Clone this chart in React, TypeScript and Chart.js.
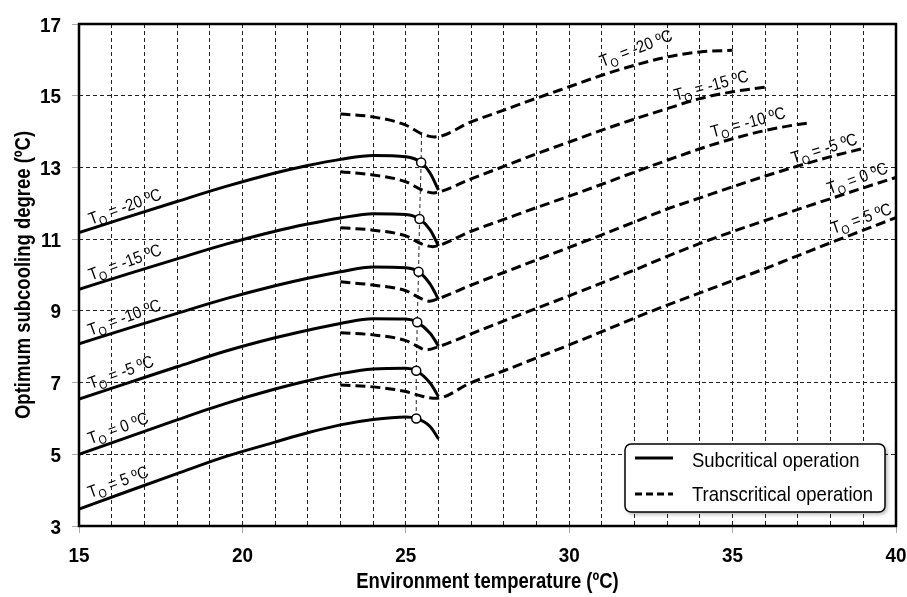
import React, { useEffect, useRef } from "react";
import { Chart, registerables } from "chart.js";

Chart.register(...registerables);

// Evaporating temperatures of the six curve families
const TO_VALUES = ["-20", "-15", "-10", "-5", "0", "5"];

// Subcritical operation: shared environment temperatures (ºC)
const SUB_X = [15, 16.5, 18, 19.5, 21, 22, 23, 24, 25, 25.75, 26];
const subM20 = [11.18, 11.62, 12.05, 12.47, 12.845, 13.055, 13.225, 13.335, 13.3, 12.83, 12.37];
const subM15 = [9.6, 10.03, 10.45, 10.86, 11.22, 11.42, 11.59, 11.71, 11.69, 11.25, 10.81];
const subM10 = [8.08, 8.51, 8.93, 9.34, 9.7, 9.91, 10.09, 10.22, 10.2, 9.74, 9.32];
const subM5 = [6.54, 6.99, 7.44, 7.88, 8.25, 8.46, 8.65, 8.78, 8.77, 8.37, 8.02];
const sub0 = [5.0, 5.48, 5.96, 6.42, 6.82, 7.05, 7.25, 7.38, 7.4, 6.98, 6.61];
const sub5 = [3.47, 3.97, 4.46, 4.94, 5.34, 5.6, 5.82, 5.97, 6.04, 5.77, 5.43];

// Optimum (open circle) points of each subcritical curve
const optX = [25.47, 25.42, 25.39, 25.35, 25.32, 25.32];
const optY = [13.14, 11.56, 10.09, 8.68, 7.33, 6.0];

// Upper end of the line joining the optimum points
const locusTopX = [25.48];
const locusTopY = [13.93];

// Transcritical operation
const transM20X = [23, 24, 25, 25.5, 25.88, 27, 28, 29, 30, 31, 32, 33, 34, 35];
const transM20Y = [14.49, 14.41, 14.18, 13.93, 13.85, 14.27, 14.6, 14.93, 15.25, 15.57, 15.85, 16.08, 16.22, 16.27];
const transM15X = [23, 24, 25, 25.5, 25.85, 26, 27, 28, 29, 30, 31, 32, 33, 34, 35, 36];
const transM15Y = [12.88, 12.79, 12.6, 12.37, 12.29, 12.31, 12.68, 13.03, 13.38, 13.71, 14.04, 14.35, 14.64, 14.92, 15.11, 15.24];
const transM10X = [23, 24, 25, 25.5, 25.83, 26, 27, 28, 29, 30, 31, 32, 33, 34, 35, 36, 37, 37.4];
const transM10Y = [11.32, 11.25, 11.09, 10.86, 10.79, 10.82, 11.22, 11.55, 11.88, 12.2, 12.53, 12.87, 13.2, 13.52, 13.8, 14.03, 14.2, 14.25];
const transM5X = [23, 24, 25, 25.5, 25.72, 26, 27, 28, 29, 30, 31, 32, 33, 34, 35, 36, 37, 38, 39];
const transM5Y = [9.81, 9.72, 9.56, 9.33, 9.27, 9.34, 9.72, 10.07, 10.42, 10.77, 11.12, 11.48, 11.84, 12.15, 12.46, 12.76, 13.04, 13.3, 13.53];
const trans0X = [23, 24, 25, 25.3, 25.62, 26, 27, 28, 29, 30, 31, 32, 33, 34, 35, 36, 37, 38, 39, 40];
const trans0Y = [8.39, 8.33, 8.17, 8.04, 7.91, 8.0, 8.36, 8.72, 9.07, 9.42, 9.78, 10.14, 10.52, 10.88, 11.21, 11.52, 11.83, 12.13, 12.43, 12.72];
const trans5X = [23, 24, 25, 25.5, 25.93, 27, 28, 29, 30, 31, 32, 33, 34, 35, 36, 37, 38, 39, 40];
const trans5Y = [6.93, 6.88, 6.75, 6.62, 6.56, 7.0, 7.33, 7.69, 8.05, 8.42, 8.8, 9.16, 9.5, 9.84, 10.18, 10.54, 10.9, 11.25, 11.6];

// Curve labels (anchor in data units, rotation in degrees)
const leftLabelX = [16.4, 16.4, 16.38, 16.28, 16.19, 16.19];
const leftLabelY = [11.92, 10.37, 8.83, 7.3, 5.74, 4.24];
const leftLabelAngle = [-20, -20, -20, -20, -20, -20];
const rightLabelX = [32.04, 34.34, 35.47, 37.8, 38.81, 38.93];
const rightLabelY = [16.33, 15.3, 14.27, 13.54, 12.71, 11.59];
const rightLabelAngle = [-21, -15, -15, -17, -20, -19];

// Axes
const Y_MIN = 3;
const Y_MAX = 17;
const Y_STEP = 2;
const X_MIN = 15;
const X_MAX = 40;
const X_LABEL_EVERY = 5;
const X_TITLE = "Environment temperature (ºC)";
const Y_TITLE = "Optimum subcooling degree (ºC)";
const LEGEND_TEXT = ["Subcritical operation", "Transcritical operation"];

const FONT = "'Liberation Sans', Arial, Helvetica, sans-serif";

const SUB_SERIES = [subM20, subM15, subM10, subM5, sub0, sub5];
const TRANS_X = [transM20X, transM15X, transM10X, transM5X, trans0X, trans5X];
const TRANS_Y = [transM20Y, transM15Y, transM10Y, transM5Y, trans0Y, trans5Y];

function pts(xs: number[], ys: number[]) {
  return xs.map((x, i) => ({ x, y: ys[i] }));
}

function subWithOptimum(ys: number[], i: number) {
  const p = pts(SUB_X, ys);
  p.splice(9, 0, { x: optX[i], y: optY[i] });
  return p;
}

// Text in a narrow (condensed) face, drawn at (x, y) with optional rotation
function narrowText(
  ctx: CanvasRenderingContext2D,
  text: string,
  x: number,
  y: number,
  font: string,
  align: CanvasTextAlign,
  squeeze: number,
  rotation = 0
) {
  ctx.save();
  ctx.translate(x, y);
  if (rotation) ctx.rotate(rotation);
  ctx.scale(squeeze, 1);
  ctx.font = font;
  ctx.fillStyle = "#000";
  ctx.textAlign = align;
  ctx.textBaseline = "alphabetic";
  ctx.fillText(text, 0, 0);
  ctx.restore();
}

function drawTO(ctx: CanvasRenderingContext2D, cx: number, cy: number, angle: number, value: string) {
  ctx.save();
  ctx.translate(cx, cy);
  ctx.rotate((angle * Math.PI) / 180);
  ctx.scale(0.88, 1);
  const main = `17px ${FONT}`;
  const sub = `12px ${FONT}`;
  const rest = ` = ${value} ºC`;
  ctx.font = main;
  const wT = ctx.measureText("T").width;
  const wR = ctx.measureText(rest).width;
  ctx.font = sub;
  const wO = ctx.measureText("O").width;
  let x = -(wT + wO + wR) / 2;
  ctx.fillStyle = "#000";
  ctx.textAlign = "left";
  ctx.textBaseline = "alphabetic";
  ctx.font = main;
  ctx.fillText("T", x, 6);
  x += wT;
  ctx.font = sub;
  ctx.fillText("O", x, 10);
  x += wO;
  ctx.font = main;
  ctx.fillText(rest, x, 6);
  ctx.restore();
}

const decorPlugin = {
  id: "decor",
  afterDraw(chart: any) {
    const { ctx, chartArea: a, scales } = chart;
    const xs = scales.x;
    const ys = scales.y;

    // frame
    ctx.save();
    ctx.strokeStyle = "#000";
    ctx.lineWidth = 2.5;
    ctx.strokeRect(a.left, a.top, a.right - a.left, a.bottom - a.top);
    ctx.restore();

    // tick labels
    const tickFont = `bold 21px ${FONT}`;
    xs.ticks.forEach((t: any) => {
      if (Number(t.value) % X_LABEL_EVERY !== 0) return;
      narrowText(ctx, String(t.value), xs.getPixelForValue(t.value), a.bottom + 36, tickFont, "center", 0.9);
    });
    ys.ticks.forEach((t: any) => {
      narrowText(ctx, String(t.value), a.left - 18, ys.getPixelForValue(t.value) + 7.5, tickFont, "right", 0.9);
    });

    // axis titles
    const titleFont = `bold 22px ${FONT}`;
    narrowText(ctx, X_TITLE, (a.left + a.right) / 2, a.bottom + 62, titleFont, "center", 0.84);
    narrowText(ctx, Y_TITLE, 30, (a.top + a.bottom) / 2, titleFont, "center", 0.84, -Math.PI / 2);

    // curve labels
    TO_VALUES.forEach((v, i) => {
      drawTO(ctx, xs.getPixelForValue(leftLabelX[i]), ys.getPixelForValue(leftLabelY[i]), leftLabelAngle[i], v);
      drawTO(ctx, xs.getPixelForValue(rightLabelX[i]), ys.getPixelForValue(rightLabelY[i]), rightLabelAngle[i], v);
    });

    // legend box
    const w = 260;
    const h = 68;
    const bx = a.right - 11 - w;
    const by = a.bottom - 14 - h;
    ctx.save();
    ctx.shadowColor = "rgba(0,0,0,0.35)";
    ctx.shadowBlur = 4;
    ctx.shadowOffsetX = 2;
    ctx.shadowOffsetY = 2;
    ctx.beginPath();
    ctx.roundRect(bx, by, w, h, 6);
    ctx.fillStyle = "#fff";
    ctx.fill();
    ctx.restore();
    ctx.save();
    ctx.beginPath();
    ctx.roundRect(bx, by, w, h, 6);
    ctx.strokeStyle = "#000";
    ctx.lineWidth = 1.5;
    ctx.stroke();

    ctx.lineWidth = 3;
    ctx.beginPath();
    ctx.moveTo(bx + 10, by + 14);
    ctx.lineTo(bx + 48, by + 14);
    ctx.stroke();
    ctx.setLineDash([7, 4]);
    ctx.beginPath();
    ctx.moveTo(bx + 10, by + 50);
    ctx.lineTo(bx + 48, by + 50);
    ctx.stroke();
    ctx.setLineDash([]);
    ctx.restore();

    const legendFont = `21px ${FONT}`;
    narrowText(ctx, LEGEND_TEXT[0], bx + 67, by + 22.5, legendFont, "left", 0.88);
    narrowText(ctx, LEGEND_TEXT[1], bx + 67, by + 57, legendFont, "left", 0.88);
  },
};

export default function App() {
  const ref = useRef<HTMLCanvasElement | null>(null);

  useEffect(() => {
    if (!ref.current) return;

    const lineBase = {
      borderColor: "#000",
      borderWidth: 3,
      pointRadius: 0,
      fill: false,
      cubicInterpolationMode: "monotone" as const,
      order: 1,
    };

    const datasets: any[] = [
      {
        label: "Optimum",
        data: pts(optX, optY),
        showLine: false,
        pointRadius: 4.5,
        pointBackgroundColor: "#fff",
        pointBorderColor: "#000",
        pointBorderWidth: 1.5,
        order: 0,
      },
      ...SUB_SERIES.map((ys, i) => ({
        ...lineBase,
        label: `Subcritical ${TO_VALUES[i]}`,
        data: subWithOptimum(ys, i),
      })),
      ...TRANS_X.map((xsArr, i) => ({
        ...lineBase,
        label: `Transcritical ${TO_VALUES[i]}`,
        data: pts(xsArr, TRANS_Y[i]),
        borderDash: [10, 5],
      })),
      {
        label: "Optimum locus",
        data: pts([...locusTopX, ...optX], [...locusTopY, ...optY]),
        borderColor: "#222",
        borderWidth: 1,
        borderDash: [4, 3],
        pointRadius: 0,
        tension: 0,
        order: 2,
      },
    ];

    const chart = new Chart(ref.current, {
      type: "line",
      data: { datasets },
      plugins: [decorPlugin],
      options: {
        responsive: false,
        animation: false,
        devicePixelRatio: 1,
        layout: { padding: { top: 24, right: 11, left: 0, bottom: 0 } },
        plugins: {
          legend: { display: false },
          tooltip: { enabled: false },
        },
        scales: {
          x: {
            type: "linear",
            min: X_MIN,
            max: X_MAX,
            afterFit: (s: any) => {
              s.height = 71;
            },
            ticks: { stepSize: 1, autoSkip: false, maxRotation: 0, display: false },
            grid: {
              color: "#222",
              lineWidth: 1,
              tickLength: 7,
              tickColor: (c: any) => (c.tick && Number(c.tick.value) % X_LABEL_EVERY === 0 ? "#aaa" : "rgba(0,0,0,0)"),
            },
            border: { display: false, dash: [4, 3] },
            title: { display: false },
          },
          y: {
            type: "linear",
            min: Y_MIN,
            max: Y_MAX,
            afterFit: (s: any) => {
              s.width = 79;
            },
            ticks: { stepSize: Y_STEP, display: false },
            grid: {
              color: "#222",
              lineWidth: 1,
              tickLength: 7,
              tickColor: "#aaa",
            },
            border: { display: false, dash: [4, 3] },
            title: { display: false },
          },
        },
      },
    } as any);

    return () => chart.destroy();
  }, []);

  return (
    <div style={{ position: "absolute", left: 0, top: 0, width: 907, height: 597, background: "#fff" }}>
      <canvas ref={ref} width={907} height={597} style={{ width: 907, height: 597, display: "block" }} />
    </div>
  );
}
